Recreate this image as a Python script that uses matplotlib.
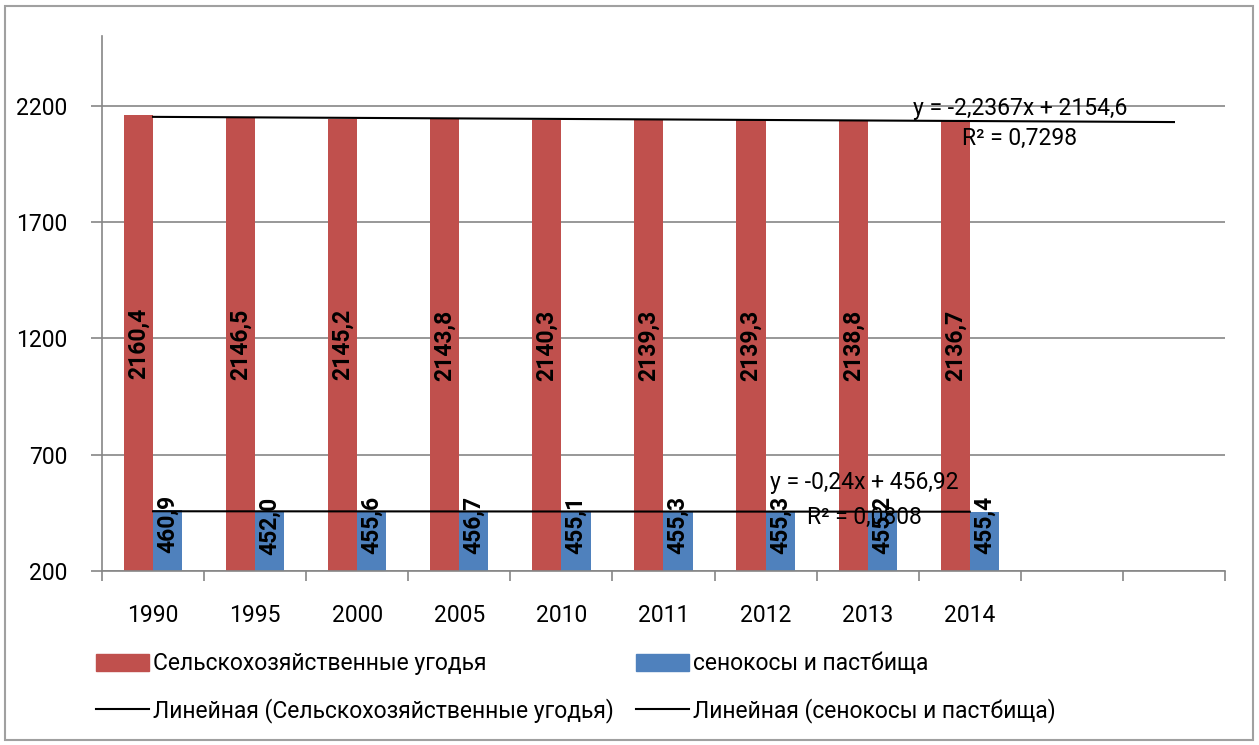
import numpy as np
import matplotlib.pyplot as plt
from matplotlib.patches import Rectangle, Patch
from matplotlib.lines import Line2D

plt.rcParams['font.family'] = ['Roboto', 'DejaVu Sans']

# data
years = ['1990', '1995', '2000', '2005', '2010', '2011', '2012', '2013', '2014', '', '']
agri = [2160.4, 2146.5, 2145.2, 2143.8, 2140.3, 2139.3, 2139.3, 2138.8, 2136.7]
hay = [460.9, 452.0, 455.6, 456.7, 455.1, 455.3, 455.3, 455.2, 455.4]
agri_name = 'Сельскохозяйственные угодья'
hay_name = 'сенокосы и пастбища'
agri_eq = ['y = -2,2367x + 2154,6', 'R² = 0,7298']
hay_eq = ['y = -0,24x + 456,92', 'R² = 0,0808']

red = '#C0504D'
blue = '#4F81BD'
grid_col = '#868686'

fig = plt.figure(figsize=(12.59, 7.45), dpi=100)
ax = fig.add_axes([0.081, 0.2336, 0.892, 0.7181])

n_cat = len(years)
index = np.arange(len(agri))
bar_width = 1 / 3.5

ax.bar(index - bar_width / 2, agri, bar_width, color=red, zorder=2)
ax.bar(index + bar_width / 2, hay, bar_width, color=blue, zorder=2)


def fmt(v):
    return f'{v:.1f}'.replace('.', ',')


for i, v in enumerate(agri):
    ax.text(i - bar_width / 2, (v + 200) / 2, fmt(v), rotation=90, ha='center',
            va='center', fontsize=16.5, fontweight='bold', zorder=4)
for i, v in enumerate(hay):
    ax.text(i + bar_width / 2, v - 58, fmt(v), rotation=90, ha='center',
            va='center', fontsize=16.5, fontweight='bold', zorder=4)

# linear trendlines (fit on 1..n, red one projected 2 periods forward)
x_fit = np.arange(1, len(agri) + 1)
k1, b1 = np.polyfit(x_fit, agri, 1)
k2, b2 = np.polyfit(x_fit, hay, 1)
xr = np.arange(1, n_cat + 1)
xb = x_fit
ax.plot(xr - 1, k1 * xr + b1, color='black', lw=1.5, zorder=3)
ax.plot(xb - 1, k2 * xb + b2, color='black', lw=1.5, zorder=3)

ax.text(8.49, 2187, agri_eq[0], ha='center', va='center', fontsize=16.5, zorder=5)
ax.text(8.49, 2058, agri_eq[1], ha='center', va='center', fontsize=16.5, zorder=5)
ax.text(6.97, 582, hay_eq[0], ha='center', va='center', fontsize=16.5, zorder=5)
ax.text(6.97, 432, hay_eq[1], ha='center', va='center', fontsize=16.5, zorder=5)

ax.set_xlim(-0.5, n_cat - 0.5)
ax.set_ylim(200, 2500)
ax.set_yticks([200, 700, 1200, 1700, 2200])
ax.yaxis.grid(True, color=grid_col, lw=1.2, zorder=0)
ax.set_axisbelow(True)

ax.set_xticks(np.arange(n_cat))
ax.set_xticklabels(years)
ax.set_xticks(np.arange(n_cat + 1) - 0.5, minor=True)
ax.tick_params(axis='x', which='major', length=0, pad=24, labelsize=16.5)
ax.tick_params(axis='x', which='minor', length=7, color=grid_col, width=1.2)
ax.tick_params(axis='y', length=8, color=grid_col, width=1.2, pad=17, labelsize=16.5)

for s in ['top', 'right']:
    ax.spines[s].set_visible(False)
for s in ['left', 'bottom']:
    ax.spines[s].set_color(grid_col)
    ax.spines[s].set_linewidth(1.2)

handles = [Patch(color=red), Line2D([], [], color='black', lw=1.5),
           Patch(color=blue), Line2D([], [], color='black', lw=1.5)]
labels = [agri_name, 'Линейная (' + agri_name + ')',
          hay_name, 'Линейная (' + hay_name + ')']
fig.legend(handles, labels, ncol=2, loc='upper left', bbox_to_anchor=(0.060, 0.152),
           frameon=False, fontsize=16.5, handlelength=2.3, handleheight=0.8,
           handletextpad=0.2, columnspacing=0.95, labelspacing=1.0)

fig.patches.append(Rectangle((0.004, 0.007), 0.991, 0.985, transform=fig.transFigure,
                             fill=False, edgecolor='#A0A0A0', lw=1.5))

fig.savefig('out.png', dpi=100)
